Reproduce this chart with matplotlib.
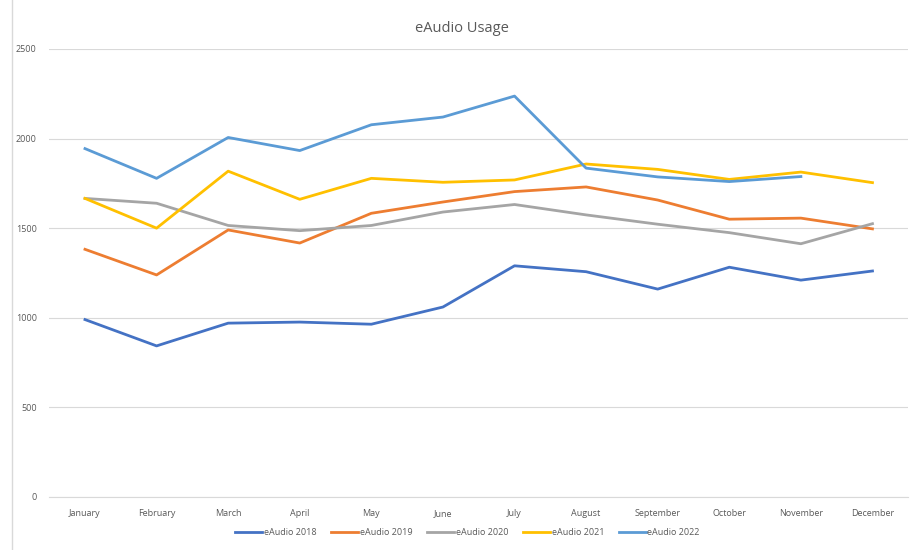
import matplotlib.pyplot as plt
from matplotlib.lines import Line2D


# =====================================
# eAudio monthly usage
# =====================================

months = [
    "January", "February", "March", "April", "May", "June",
    "July", "August", "September", "October", "November", "December"
]

usage_2018 = [990, 843, 970, 976, 964, 1060, 1290, 1257, 1160, 1282, 1210, 1261]
usage_2019 = [1382, 1239, 1490, 1417, 1583, 1646, 1704, 1730, 1657, 1550, 1556, 1496]
usage_2020 = [1666, 1639, 1515, 1486, 1515, 1590, 1632, 1574, 1522, 1475, 1413, 1525]
usage_2021 = [1666, 1500, 1818, 1661, 1778, 1756, 1769, 1858, 1828, 1772, 1813, 1754]
usage_2022 = [1944, 1778, 2006, 1933, 2077, 2120, 2237, 1835, 1786, 1760, 1788]

series = [
    ("eAudio 2018", usage_2018, "#4472C4"),
    ("eAudio 2019", usage_2019, "#ED7D31"),
    ("eAudio 2020", usage_2020, "#A5A5A5"),
    ("eAudio 2021", usage_2021, "#FFC000"),
    ("eAudio 2022", usage_2022, "#5B9BD5"),
]

plt.rcParams["font.family"] = ["Open Sans", "DejaVu Sans"]


# =====================================
# Create Chart
# =====================================

fig = plt.figure(figsize=(9.11, 5.5), dpi=100)
ax = fig.add_axes([0.054, 0.0964, 0.943, 0.8146])

x = list(range(len(months)))

for label, values, color in series:
    ax.plot(
        x[:len(values)],
        values,
        color=color,
        linewidth=2.0,
        label=label,
    )

ax.set_xlim(-0.5, len(months) - 0.5)
ax.set_ylim(0, 2500)
ax.set_yticks(range(0, 2501, 500))
ax.set_xticks(x)
ax.set_xticklabels(months)

ax.tick_params(axis="both", length=0, labelsize=6.5, colors="#595959")
ax.tick_params(axis="x", pad=9)
ax.tick_params(axis="y", pad=9)

ax.grid(axis="y", color="#D9D9D9", linewidth=0.8)
ax.set_axisbelow(True)

for side in ["top", "right", "left"]:
    ax.spines[side].set_visible(False)
ax.spines["bottom"].set_color("#D9D9D9")
ax.spines["bottom"].set_linewidth(0.8)

fig.text(
    0.507, 0.949,
    "eAudio Usage",
    ha="center", va="center",
    fontsize=10.5, color="#595959"
)

# chart frame edge on the left
fig.add_artist(Line2D([0.013, 0.013], [0.0, 1.0], color="#D9D9D9", linewidth=1))

handles, labels = ax.get_legend_handles_labels()
fig.legend(
    handles, labels,
    loc="center",
    bbox_to_anchor=(0.513, 0.031),
    ncol=5,
    frameon=False,
    fontsize=6.5,
    labelcolor="#595959",
    handlelength=3.0,
    handletextpad=0.2,
    columnspacing=1.6,
)


# =====================================
# Save Image
# =====================================

plt.savefig("out.png", dpi=100)
plt.close()
